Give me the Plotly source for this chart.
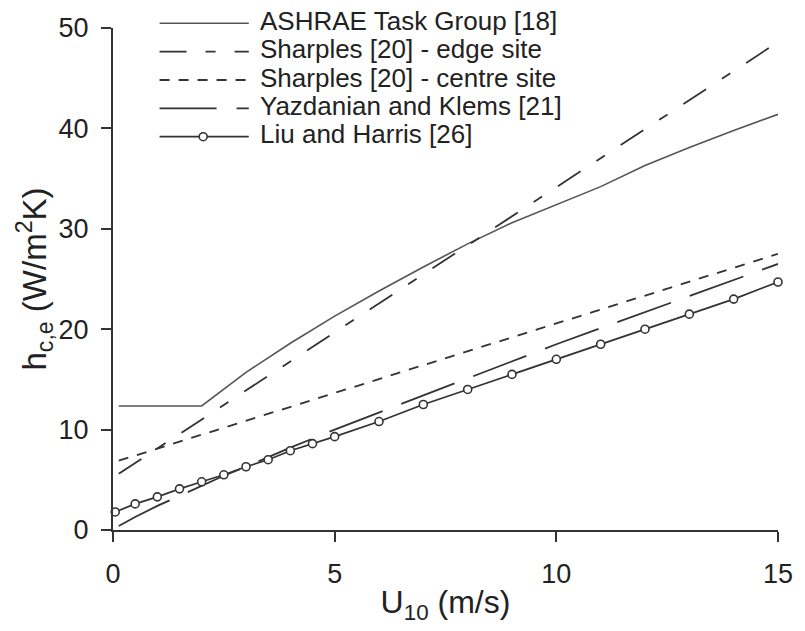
import plotly.graph_objects as go

# ---------------- data ----------------
u_ashrae = [0.13, 2, 3, 4, 5, 6, 7, 8, 9, 10, 11, 12, 13, 14, 15]
h_ashrae = [12.35, 12.35, 15.7, 18.6, 21.3, 23.8, 26.2, 28.5, 30.6, 32.4, 34.2, 36.3, 38.1, 39.8, 41.4]

u_edge = [0.13, 5, 10, 15]
h_edge = [5.6, 19.7, 34.2, 48.6]

u_centre = [0.13, 5, 10, 15]
h_centre = [6.9, 13.65, 20.55, 27.5]

u_yk = [0.13, 0.5, 1, 1.5, 2, 2.5, 3, 4, 5, 6, 7, 8, 9, 10, 11, 12, 13, 14, 15]
h_yk = [0.4, 1.3, 2.4, 3.4, 4.4, 5.4, 6.3, 8.2, 10.0, 11.7, 13.4, 15.1, 16.8, 18.5, 20.1, 21.7, 23.3, 24.9, 26.5]

u_lh = [0.05, 0.5, 1, 1.5, 2, 2.5, 3, 3.5, 4, 4.5, 5, 6, 7, 8, 9, 10, 11, 12, 13, 14, 15]
h_lh = [1.8, 2.6, 3.3, 4.1, 4.8, 5.5, 6.3, 7.0, 7.9, 8.6, 9.3, 10.8, 12.5, 14.0, 15.5, 17.0, 18.5, 20.0, 21.5, 23.0, 24.7]

names = ["ASHRAE Task Group [18]", "Sharples [20] - edge site", "Sharples [20] - centre site",
         "Yazdanian and Klems [21]", "Liu and Harris [26]"]

x_ticks = [0, 5, 10, 15]
y_ticks = [0, 10, 20, 30, 40, 50]

# ---------------- styling ----------------
W, H = 805, 631
L, R, T, B = 113, 21, 28, 101
PW, PH = W - L - R, H - T - B
INK = "#333333"
FONT = "Liberation Sans, Arial, sans-serif"

dashes = ["solid", "27px,19px,10px,19px", "10px,9px", "57px,20px", "solid"]
colors = ["#555555", INK, INK, INK, INK]
widths = [1.6, 1.8, 1.8, 1.8, 1.7]

fig = go.Figure()
series = [(u_ashrae, h_ashrae), (u_edge, h_edge), (u_centre, h_centre), (u_yk, h_yk)]
for (u, h), nm, d, c, w in zip(series, names[:4], dashes[:4], colors[:4], widths[:4]):
    fig.add_trace(go.Scatter(x=u, y=h, mode="lines", name=nm, showlegend=False,
                             line=dict(color=c, width=w, dash=d)))
fig.add_trace(go.Scatter(x=u_lh, y=h_lh, mode="lines+markers", name=names[4], showlegend=False,
                         cliponaxis=False,
                         line=dict(color=INK, width=widths[4]),
                         marker=dict(symbol="circle", size=8, color="white",
                                     line=dict(color=INK, width=1.6))))

# ---------------- manual legend (layout decorations) ----------------
def px(xp):
    return (xp - L) / PW

def py(yp):
    return (H - B - yp) / PH

leg_x0, leg_x1, leg_tx = 160, 250, 259
leg_y0, leg_dy = 23.3, 28.35
shapes, annots = [], []
for i, nm in enumerate(names):
    yy = leg_y0 + i * leg_dy
    shapes.append(dict(type="line", xref="paper", yref="paper",
                       x0=px(leg_x0), x1=px(leg_x1), y0=py(yy), y1=py(yy),
                       line=dict(color=colors[i], width=widths[i], dash=dashes[i])))
    annots.append(dict(xref="paper", yref="paper", x=px(leg_tx), y=py(yy - 2.5),
                       xanchor="left", yanchor="middle", showarrow=False, text=nm,
                       font=dict(family=FONT, size=26, color="#222222")))
# marker sample for Liu and Harris
yy = leg_y0 + 4 * leg_dy
shapes.append(dict(type="circle", xref="paper", yref="paper",
                   x0=px(200), x1=px(208), y0=py(yy + 4), y1=py(yy - 4),
                   fillcolor="white", line=dict(color=INK, width=1.6)))

fig.update_layout(
    width=W, height=H,
    margin=dict(l=L, r=R, t=T, b=B, pad=0),
    paper_bgcolor="white", plot_bgcolor="white",
    showlegend=False,
    shapes=shapes, annotations=annots,
    font=dict(family=FONT, color="#222222"),
)
axis_common = dict(showline=True, linecolor=INK, linewidth=2, ticks="outside", ticklen=10,
                   tickwidth=2, tickcolor=INK, showgrid=False, zeroline=False,
                   tickfont=dict(family=FONT, size=27, color="#222222"))
fig.update_xaxes(range=[0, 15], tickvals=x_ticks, ticktext=[str(v) for v in x_ticks],
                 ticklabelstandoff=9,
                 title=dict(text="U<sub>10</sub> (m/s)", standoff=2,
                            font=dict(family=FONT, size=32, color="#222222")),
                 **axis_common)
fig.update_yaxes(range=[0, 50], tickvals=y_ticks, ticktext=[str(v) for v in y_ticks],
                 ticklabelstandoff=7,
                 title=dict(text="h<sub>c,e</sub> (W/m<sup>2</sup>K)", standoff=2,
                            font=dict(family=FONT, size=33, color="#222222")),
                 **axis_common)

fig.write_html("out.html")
